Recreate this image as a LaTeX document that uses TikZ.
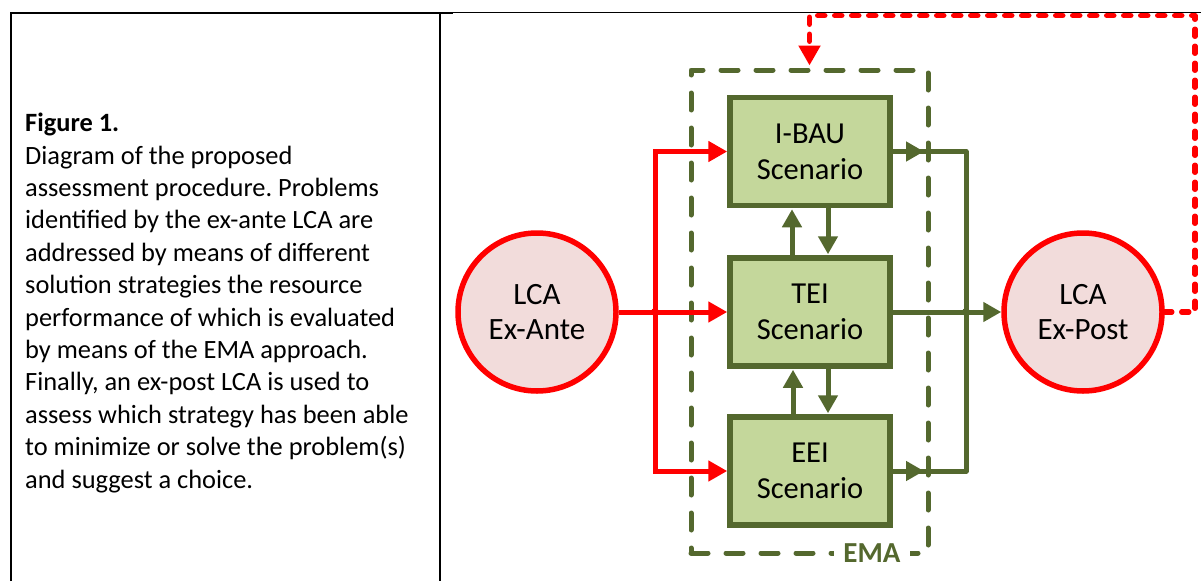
\documentclass[tikz,border=0pt]{standalone}
\usepackage{fontspec}
\setmainfont{Carlito}
\usetikzlibrary{arrows.meta}
\definecolor{emagreen}{RGB}{84,104,46}
\definecolor{boxfill}{RGB}{196,215,155}
\definecolor{lcafill}{RGB}{242,220,219}
\definecolor{lcared}{RGB}{255,0,0}
\frenchspacing
\begin{document}
\begin{tikzpicture}[x=1pt,y=-1pt,
  lca/.style={circle, draw=lcared, line width=5.5pt, fill=lcafill, minimum size=158pt,
    inner sep=0pt, align=center, font=\fontsize{31}{35}\selectfont},
  scen/.style={rectangle, draw=emagreen, line width=5.5pt, fill=boxfill, minimum width=160pt,
    minimum height=108pt, inner sep=0pt, align=center, font=\fontsize{30.5}{36}\selectfont},
  emaframe/.style={rectangle, draw=emagreen, line width=5pt, line cap=round, line join=round,
    dash pattern=on 17pt off 18pt, minimum width=237pt, minimum height=483pt, inner sep=0pt},
  redline/.style={draw=lcared, line width=5pt},
  redarrow/.style={redline, -{Triangle[length=19pt,width=20pt]}},
  greenline/.style={draw=emagreen, line width=5pt},
  greenarrow/.style={greenline, -{Triangle[length=18pt,width=19pt]}},
  feedback/.style={draw=lcared, line width=5.5pt, line cap=round, line join=round,
    dash pattern=on 7pt off 10pt, -{Triangle[length=20pt,width=21pt]}},
  tablerule/.style={draw=black, line width=2pt},
  junction/.style={circle, inner sep=0pt, minimum size=8pt}
]
\useasboundingbox (0,0) rectangle (1202,581);

% table cell borders
\draw[tablerule] (11,581) -- (11,13) -- (453,13);
\draw[tablerule] (440,13) -- (440,581);
\draw[draw=black, line width=1pt] (453,12.5) -- (1201,12.5);

% caption
\node[anchor=north west, inner sep=0pt, align=left, font=\fontsize{26.4}{32.4}\selectfont] (caption) at (25,113)
  {\textbf{Figure 1.}\\
   Diagram of the proposed\\
   assessment procedure. Problems\\
   identified by the ex-ante LCA are\\
   addressed by means of different\\
   solution strategies the resource\\
   performance of which is evaluated\\
   by means of the EMA approach.\\
   Finally, an ex-post LCA is used to\\
   assess which strategy has been able\\
   to minimize or solve the problem(s)\\
   and suggest a choice.};

% EMA frame
\node[emaframe] (ema) at (809.5,311.5) {};
\node[fill=white, inner xsep=9pt, inner ysep=2pt, text=emagreen,
  font=\fontsize{29}{30}\selectfont\bfseries] (emalabel) at (872,553) {EMA};

% LCA nodes
\node[lca] (exante) at (537,312) {LCA\\Ex-Ante};
\node[lca] (expost) at (1083,312) {LCA\\Ex-Post};

% scenarios
\node[scen] (ibau) at (810,151.5) {I-BAU\\Scenario};
\node[scen] (tei)  at (810,312)   {TEI\\Scenario};
\node[scen] (eei)  at (810,471)   {EEI\\Scenario};

% red distribution bus
\coordinate (rbus) at (655,312);
\draw[redarrow] (exante.east) -- (tei.west);
\draw[redarrow] (rbus) |- (ibau.west);
\draw[redarrow] (rbus) |- (eei.west);
\node[junction, fill=lcared] (rdot) at (rbus) {};

% green collecting bus
\coordinate (gbus) at (966,312);
\coordinate (gtip) at (924,312);
\draw[greenline, line join=round] (ibau.east) -| (gbus);
\draw[greenline, line join=round] (eei.east) -| (gbus);
\draw[greenarrow] (ibau.east) -- (ibau.east -| gtip);
\draw[greenarrow] (eei.east) -- (eei.east -| gtip);
\draw[greenarrow] (tei.east) -- (expost.west);
\node[junction, fill=emagreen] (gdot) at (gbus) {};

% exchanges between scenarios
\draw[greenarrow, shorten >=1pt] ([xshift=-18pt]tei.north) -- ([xshift=-18pt]ibau.south);
\draw[greenarrow, shorten >=1pt] ([xshift=18pt]ibau.south) -- ([xshift=18pt]tei.north);
\draw[greenarrow, shorten >=1pt] ([xshift=-17pt]eei.north) -- ([xshift=-17pt]tei.south);
\draw[greenarrow, shorten >=1pt] ([xshift=18pt]tei.south) -- ([xshift=18pt]eei.north);

% feedback loop
\coordinate (fbcorner) at (1195,15.5);
\draw[feedback, shorten >=2pt] (expost.east) -| (fbcorner) -| (ema.north);
\end{tikzpicture}
\end{document}
